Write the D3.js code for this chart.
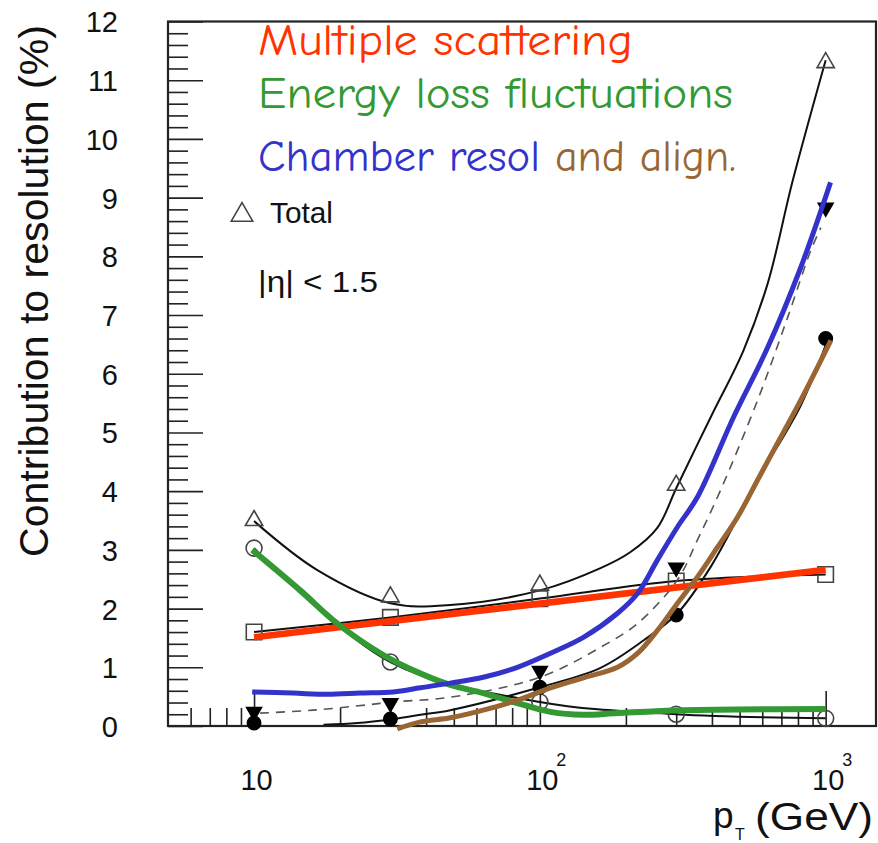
<!DOCTYPE html>
<html>
<head>
<meta charset="utf-8">
<title>Contribution to resolution</title>
<style>
  body { margin: 0; background: #fff; }
  svg { display: block; }
  .axis text { font-family: "Liberation Sans", Arial, Helvetica, sans-serif; fill: #111; }
  .axis path { display: none; }
  .axis line { stroke: #222; stroke-width: 1.6px; }
  .note { font-family: "Comic Sans MS", "Comic Neue", "Open Sans", sans-serif; }
  .root { font-family: "Liberation Sans", Arial, Helvetica, sans-serif; fill: #111; }
</style>
</head>
<body>
<div id="chart"></div>
<script src="https://d3js.org/d3.v7.min.js"></script>
<script>
// pT points where the markers sit (GeV)
const ptPoints = [10, 30, 100, 300, 1000];

// marker values (%)
const totalPts   = [3.5, 2.2, 2.4, 4.1, 11.3];     // open triangles
const msPts      = [1.6, 1.85, 2.17, 2.47, 2.58];  // open squares
const elossPts   = [3.03, 1.09, 0.41, 0.2, 0.13];  // open circles
const chamberPts = [0.24, 0.39, 0.94, 2.7, 8.83];  // filled down triangles
const alignPts   = [0.05, 0.12, 0.66, 1.89, 6.6];  // filled circles

// black fit curves [pT, %]
const totalFit = [[10,3.49],[16.6,2.66],[30,2.09],[48.6,2.06],[100,2.31],[163,2.69],[207,2.96],
  [258,3.38],[300,4.05],[396,5.26],[516,6.4],[627,7.54],[767,9.29],[1000,11.34]];
const chamberFit = [[10.5,0.22],[16.1,0.27],[24.9,0.36],[30.7,0.41],[48.6,0.49],[100,0.83],
  [163,1.34],[220,1.75],[303,2.49],[356,3.17],[429,4.02],[578,5.55],[736,6.96],[887,8.1],[962,8.49]];
const alignFit = [[17.5,0.02],[23,0.05],[30.7,0.12],[38.2,0.19],[48.6,0.27],[100,0.66],[163,0.99],
  [231,1.46],[303,1.92],[396,2.71],[578,4.19],[818,5.46],[1000,6.49]];

// hand drawn coloured lines [pT, %]
const redLine = [[10,1.51],[1000,2.66]];
const greenLine = [[9.85,3.0],[14.5,2.31],[19.5,1.75],[28.3,1.21],[37.2,0.92],[48.6,0.7],[63.4,0.56],
  [83.4,0.39],[109,0.24],[142,0.19],[187,0.22],[318,0.27],[1000,0.29]];
const blueLine = [[9.85,0.58],[13.7,0.56],[18,0.54],[23.5,0.56],[30.7,0.58],[38.2,0.65],[48.6,0.73],
  [63.4,0.83],[83.4,1.0],[109,1.24],[142,1.51],[187,1.92],[220,2.26],[258,2.83],[303,3.39],
  [356,3.9],[476,5.26],[627,6.45],[818,7.81],[1040,9.26]];
const brownLine = [[31.7,-0.05],[38.2,0.07],[48.6,0.14],[63.4,0.27],[83.4,0.44],[109,0.65],[142,0.82],
  [187,1.0],[220,1.24],[258,1.63],[303,2.09],[356,2.54],[419,3.05],[492,3.56],[578,4.19],
  [658,4.7],[818,5.55],[1043,6.57]];

// axis ticks
const yMajor = d3.range(0, 13, 1);
const yMinor = d3.range(0, 12.01, 0.2).filter(v => Math.abs(v - Math.round(v)) > 0.01);
const xMajor = [10, 100, 1000];
const xMinor = [6, 7, 8, 9, 20, 30, 40, 50, 60, 70, 80, 90, 200, 300, 400, 500, 600, 700, 800, 900];
const xExp = {10: "", 100: "2", 1000: "3"};

const width = 878, height = 843;
const frame = {left: 168, right: 876, top: 21.5, bottom: 726};

const svg = d3.select("#chart").append("svg")
  .attr("width", width).attr("height", height);

const x = d3.scaleLog().domain([5, 1500]).range([frame.left, frame.right]);
const y = d3.scaleLinear().domain([0, 12]).range([frame.bottom, frame.top]);

// y axis, ticks pointing inward
svg.append("g").attr("class", "axis")
  .attr("transform", `translate(${frame.left},0)`)
  .call(d3.axisLeft(y).tickValues(yMinor).tickSize(-20).tickFormat(""));
const yAx = svg.append("g").attr("class", "axis")
  .attr("transform", `translate(${frame.left},0)`)
  .call(d3.axisLeft(y).tickValues(yMajor).tickSize(-35).tickPadding(50).tickFormat(d3.format("d")));
yAx.selectAll("text").attr("font-size", 29).attr("dy", "0.36em");

// x axis
svg.append("g").attr("class", "axis")
  .attr("transform", `translate(0,${frame.bottom})`)
  .call(d3.axisBottom(x).tickValues(xMinor).tickSize(-18).tickFormat(""));
const xAx = svg.append("g").attr("class", "axis")
  .attr("transform", `translate(0,${frame.bottom})`)
  .call(d3.axisBottom(x).tickValues(xMajor).tickSize(-35).tickFormat(""));
xAx.selectAll(".tick").each(function(d) {
  const g = d3.select(this);
  g.select("text").remove();
  g.append("text").attr("x", 2).attr("y", 64).attr("text-anchor", "middle")
    .attr("font-size", 29).text("10");
  if (xExp[d]) {
    g.append("text").attr("x", 21).attr("y", 40).attr("font-size", 18).text(xExp[d]);
  }
});

// frame
svg.append("rect")
  .attr("x", frame.left).attr("y", frame.top)
  .attr("width", frame.right - frame.left).attr("height", frame.bottom - frame.top)
  .attr("fill", "none").attr("stroke", "#222").attr("stroke-width", 2.2);

// axis titles
svg.append("text").attr("class", "root")
  .attr("transform", "translate(48,557) rotate(-90)")
  .attr("font-size", 41)
  .attr("textLength", 532).attr("lengthAdjust", "spacingAndGlyphs")
  .text("Contribution to resolution (%)");
svg.append("text").attr("class", "root").attr("x", 713).attr("y", 828).attr("font-size", 37).text("p");
svg.append("text").attr("class", "root").attr("x", 735).attr("y", 840).attr("font-size", 16).text("T");
svg.append("text").attr("class", "root").attr("x", 755).attr("y", 830).attr("font-size", 38)
  .attr("textLength", 118).attr("lengthAdjust", "spacingAndGlyphs").text("(GeV)");

const line = d3.line()
  .x(d => x(d[0])).y(d => y(d[1]))
  .curve(d3.curveCatmullRom.alpha(0.5));
const zip = vals => ptPoints.map((p, i) => [p, vals[i]]);

// black fits
const fits = svg.append("g").attr("fill", "none");
fits.append("path").attr("d", line(totalFit)).attr("stroke", "#111").attr("stroke-width", 2);
fits.append("path").attr("d", line(zip(msPts))).attr("stroke", "#111").attr("stroke-width", 2);
fits.append("path").attr("d", line(zip(elossPts))).attr("stroke", "#111").attr("stroke-width", 2);
fits.append("path").attr("d", line(alignFit)).attr("stroke", "#111").attr("stroke-width", 2);
fits.append("path").attr("d", line(chamberFit)).attr("stroke", "#555").attr("stroke-width", 1.6)
  .attr("stroke-dasharray", "9,7");

// markers
function markers(vals, type, size, filled, rotate) {
  svg.append("g").selectAll("path")
    .data(zip(vals))
    .join("path")
    .attr("transform", d => `translate(${x(d[0])},${y(d[1])})${rotate ? " rotate(180)" : ""}`)
    .attr("d", d3.symbol().type(type).size(size))
    .attr("fill", filled ? "#000" : "none")
    .attr("stroke", filled ? "#000" : "#444")
    .attr("stroke-width", 1.6);
}
markers(totalPts, d3.symbolTriangle, 130, false, false);
markers(msPts, d3.symbolSquare, 240, false, false);
markers(elossPts, d3.symbolCircle, 200, false, false);
markers(chamberPts, d3.symbolTriangle, 95, true, true);
markers(alignPts, d3.symbolCircle, 140, true, false);

// coloured overlay lines
const over = svg.append("g").attr("fill", "none").attr("stroke-linecap", "butt");
over.append("path").attr("d", line(redLine)).attr("stroke", "#ff3300").attr("stroke-width", 6.5);
over.append("path").attr("d", line(greenLine)).attr("stroke", "#339933").attr("stroke-width", 6);
over.append("path").attr("d", line(blueLine)).attr("stroke", "#3333cc").attr("stroke-width", 5);
over.append("path").attr("d", line(brownLine)).attr("stroke", "#996633").attr("stroke-width", 5);

// annotations
const notes = [
  {t: "Multiple scattering", x: 258, y: 55, w: 375, c: "#ff3300"},
  {t: "Energy loss fluctuations", x: 258, y: 108, w: 475, c: "#339933"},
  {t: "Chamber resol", x: 258, y: 171, w: 282, c: "#3333cc"},
  {t: "and align.", x: 555, y: 171, w: 181, c: "#996633"}
];
svg.append("g").selectAll("text").data(notes).join("text")
  .attr("class", "note")
  .attr("x", d => d.x).attr("y", d => d.y)
  .attr("font-size", 44).attr("fill", d => d.c)
  .attr("textLength", d => d.w).attr("lengthAdjust", "spacingAndGlyphs")
  .text(d => d.t);

// legend
svg.append("path")
  .attr("transform", "translate(242,215)")
  .attr("d", d3.symbol().type(d3.symbolTriangle).size(200))
  .attr("fill", "none").attr("stroke", "#444").attr("stroke-width", 1.6);
svg.append("text").attr("class", "root").attr("x", 270).attr("y", 223).attr("font-size", 30)
  .attr("textLength", 63).attr("lengthAdjust", "spacingAndGlyphs").text("Total");
svg.append("text").attr("class", "root").attr("x", 258).attr("y", 292).attr("font-size", 29)
  .attr("textLength", 120).attr("lengthAdjust", "spacingAndGlyphs").text("|η| < 1.5");
</script>
</body>
</html>
